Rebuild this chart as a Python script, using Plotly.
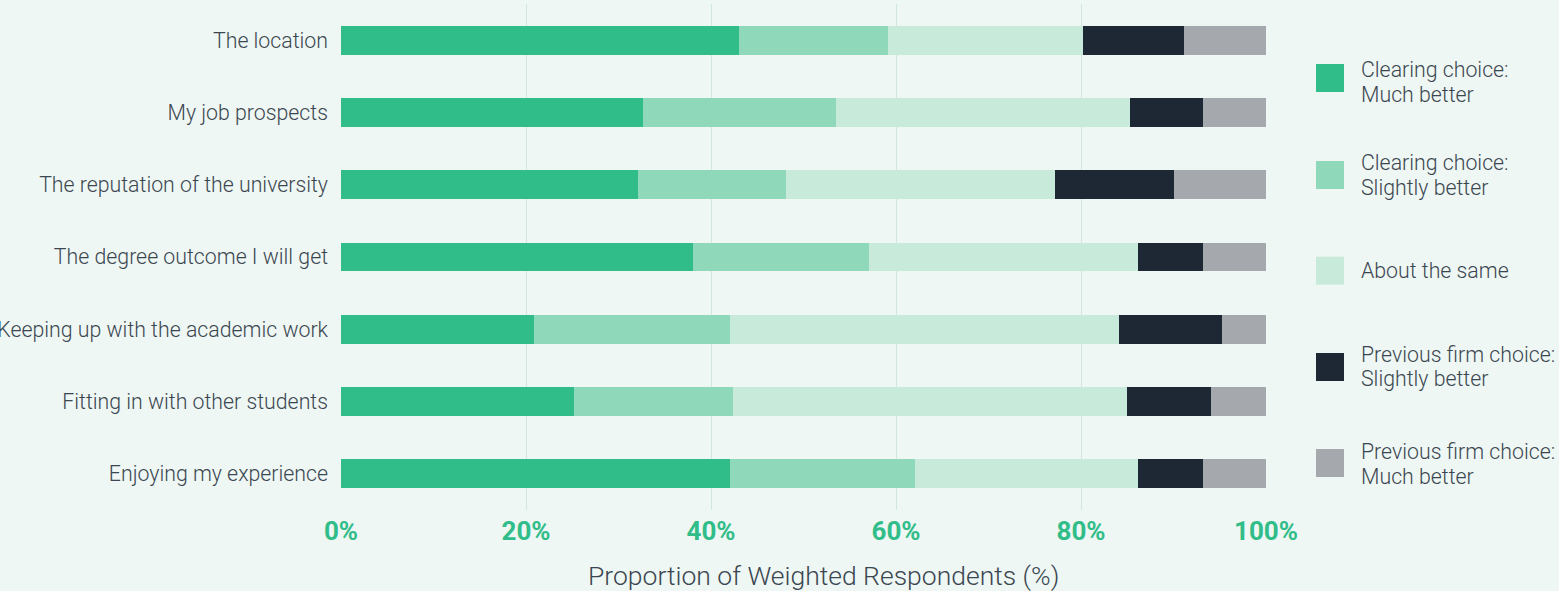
import plotly.graph_objects as go

# Survey items (top to bottom)
categories = [
    "The location",
    "My job prospects",
    "The reputation of the university",
    "The degree outcome I will get",
    "Keeping up with the academic work",
    "Fitting in with other students",
    "Enjoying my experience",
]

# Response groups and their shares (%) per item
series_names = [
    "Clearing choice:<br>Much better",
    "Clearing choice:<br>Slightly better",
    "About the same",
    "Previous firm choice:<br>Slightly better",
    "Previous firm choice:<br>Much better",
]
much_better_clearing = [43.0, 32.7, 32.1, 38.0, 20.9, 25.2, 42.0]
slightly_better_clearing = [16.1, 20.8, 16.0, 19.1, 21.1, 17.2, 20.1]
about_same = [21.1, 31.8, 29.1, 29.1, 42.1, 42.6, 24.1]
slightly_better_firm = [10.9, 7.9, 12.9, 7.0, 11.1, 9.1, 7.0]
much_better_firm = [8.9, 6.8, 9.9, 6.8, 4.8, 5.9, 6.8]

series_values = [
    much_better_clearing,
    slightly_better_clearing,
    about_same,
    slightly_better_firm,
    much_better_firm,
]
colors = ["#31bd89", "#8fd8b9", "#c8eadb", "#1d2834", "#a5a8ac"]

x_ticks = [0, 20, 40, 60, 80, 100]
x_tick_labels = ["0%", "20%", "40%", "60%", "80%", "100%"]

W, H = 1559, 591
M_L, M_R, M_T, M_B = 341, 293, 4, 81
PW, PH = W - M_L - M_R, H - M_T - M_B

BG = "#eef7f3"
TEXT = "#3b4651"
FONT = "Roboto"
LABEL_SIZE = 21.3

fig = go.Figure()
for name, vals, col in zip(series_names, series_values, colors):
    fig.add_trace(
        go.Bar(
            y=categories,
            x=vals,
            name=name.replace("<br>", " "),
            orientation="h",
            marker=dict(color=col, line=dict(width=0)),
            showlegend=False,
        )
    )


def px_x(px):
    return (px - M_L) / PW


def px_y(py):
    return (H - M_B - py) / PH


# Legend built from square swatches with labels (pixel layout)
swatch_y = [78, 175, 270.7, 367, 463]
text_y = [82, 174.5, 270.6, 366.5, 463.5]
line_gap = 25
sw = 28
shapes = []
annotations = []
for name, col, sy, ty in zip(series_names, colors, swatch_y, text_y):
    shapes.append(
        dict(
            type="rect",
            xref="paper",
            yref="paper",
            x0=px_x(1316),
            x1=px_x(1316 + sw),
            y0=px_y(sy + sw / 2),
            y1=px_y(sy - sw / 2),
            fillcolor=col,
            line=dict(width=0),
        )
    )
    lines = name.split("<br>")
    start = ty - (len(lines) - 1) * line_gap / 2
    for k, line in enumerate(lines):
        annotations.append(
            dict(
                xref="paper",
                yref="paper",
                x=px_x(1359),
                y=px_y(start + k * line_gap),
                xanchor="left",
                yanchor="middle",
                align="left",
                text=line,
                showarrow=False,
                font=dict(family=FONT, size=LABEL_SIZE, color=TEXT, weight=300),
            )
        )

annotations.append(
    dict(
        xref="paper",
        yref="paper",
        x=px_x(823),
        y=px_y(575.5),
        xanchor="center",
        yanchor="middle",
        text="Proportion of Weighted Respondents (%)",
        showarrow=False,
        font=dict(family=FONT, size=26.5, color=TEXT, weight=300),
    )
)

fig.update_layout(
    width=W,
    height=H,
    barmode="stack",
    bargap=0.6,
    paper_bgcolor=BG,
    plot_bgcolor=BG,
    margin=dict(l=M_L, r=M_R, t=M_T, b=M_B, pad=0, autoexpand=False),
    shapes=shapes,
    annotations=annotations,
    xaxis=dict(
        range=[0, 100],
        tickvals=x_ticks,
        ticktext=x_tick_labels,
        showgrid=True,
        gridcolor="#cfe8de",
        gridwidth=1,
        zeroline=False,
        showline=False,
        ticks="",
        ticklabelstandoff=3,
        tickfont=dict(family=FONT, size=26, color="#31bd89", weight=700),
        automargin=False,
        fixedrange=True,
    ),
    yaxis=dict(
        categoryorder="array",
        categoryarray=categories,
        autorange="reversed",
        showgrid=False,
        zeroline=False,
        showline=False,
        ticks="",
        ticklabelstandoff=12,
        tickfont=dict(family=FONT, size=LABEL_SIZE, color=TEXT, weight=300),
        automargin=False,
        fixedrange=True,
    ),
)

fig.write_html("out.html")
